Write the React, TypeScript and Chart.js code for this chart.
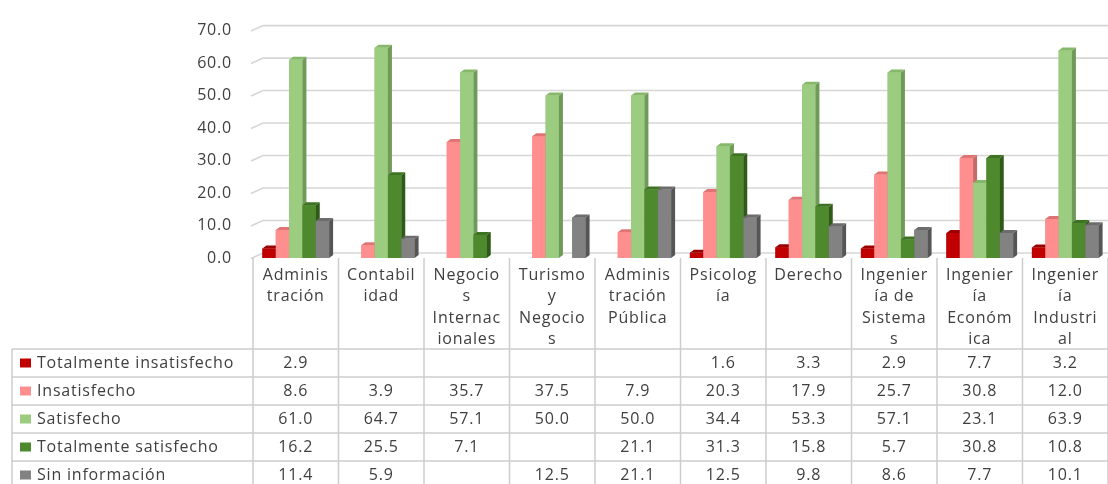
import React, { useEffect, useRef } from "react";
import { Chart, registerables } from "chart.js";

Chart.register(...registerables);

// ---------- data ----------
const categories: string[][] = [
  ["Adminis", "tración"],
  ["Contabil", "idad"],
  ["Negocio", "s", "Internac", "ionales"],
  ["Turismo", "y", "Negocio", "s"],
  ["Adminis", "tración", "Pública"],
  ["Psicolog", "ía"],
  ["Derecho"],
  ["Ingenier", "ía de", "Sistema", "s"],
  ["Ingenier", "ía", "Económ", "ica"],
  ["Ingenier", "ía", "Industri", "al"],
];

const seriesNames = [
  "Totalmente insatisfecho",
  "Insatisfecho",
  "Satisfecho",
  "Totalmente satisfecho",
  "Sin información",
];

const totalmenteInsatisfecho: (number | null)[] = [2.9, null, null, null, null, 1.6, 3.3, 2.9, 7.7, 3.2];
const insatisfecho: (number | null)[] = [8.6, 3.9, 35.7, 37.5, 7.9, 20.3, 17.9, 25.7, 30.8, 12.0];
const satisfecho: (number | null)[] = [61.0, 64.7, 57.1, 50.0, 50.0, 34.4, 53.3, 57.1, 23.1, 63.9];
const totalmenteSatisfecho: (number | null)[] = [16.2, 25.5, 7.1, null, 21.1, 31.3, 15.8, 5.7, 30.8, 10.8];
const sinInformacion: (number | null)[] = [11.4, 5.9, null, 12.5, 21.1, 12.5, 9.8, 8.6, 7.7, 10.1];

const yTicks = [0, 10, 20, 30, 40, 50, 60, 70];

const seriesValues = [
  totalmenteInsatisfecho,
  insatisfecho,
  satisfecho,
  totalmenteSatisfecho,
  sinInformacion,
];

// ---------- styles ----------
const frontColors = ["#c00000", "#ff8f8f", "#9bcc7f", "#4e8a2d", "#828282"];
const sideColors = ["#7a0000", "#c86a6a", "#6f9a58", "#2f5a1a", "#555555"];
const topColors = ["#9a0000", "#e07474", "#86b86a", "#3d7322", "#6c6c6c"];

const FONT = "Open Sans";
const TEXT = "#404040";
const GRID = "#d6d6d6";
const TABLE_LINE = "#cdcdcd";
const SPACING = "0.8px";

export default function App() {
  const ref = useRef<HTMLCanvasElement | null>(null);

  useEffect(() => {
    const canvas = ref.current;
    if (!canvas) return;

    const letterSpacingPlugin = {
      id: "letterSpacing",
      beforeDraw(chart: any) {
        (chart.ctx as any).letterSpacing = SPACING;
      },
    };

    const gridPlugin = {
      id: "grid3d",
      beforeDatasetsDraw(chart: any) {
        const ctx = chart.ctx;
        const area = chart.chartArea;
        const ys = chart.scales.y;
        ctx.save();
        ctx.strokeStyle = GRID;
        ctx.lineWidth = 1.6;
        for (const v of yTicks) {
          const y = ys.getPixelForValue(v);
          ctx.beginPath();
          ctx.moveTo(area.left - 2, y + 0.5);
          ctx.lineTo(area.left + 10, y - 5);
          ctx.lineTo(area.right, y - 5);
          ctx.stroke();
        }
        ctx.restore();
      },
    };

    // redraw every bar left to right with its 3D side and top faces
    const bar3dPlugin = {
      id: "bar3d",
      afterDatasetsDraw(chart: any) {
        const ctx = chart.ctx;
        const dx = 4;
        const dy = 3;
        const n = categories.length;
        ctx.save();
        for (let j = 0; j < n; j++) {
          for (let i = 0; i < seriesNames.length; i++) {
            const v = seriesValues[i][j];
            if (v === null || v === undefined) continue;
            const el = chart.getDatasetMeta(i).data[j];
            const p = el.getProps(["x", "y", "base", "width"], true);
            const l = p.x - p.width / 2;
            const r = p.x + p.width / 2;
            const t = p.y;
            const b = p.base;
            ctx.fillStyle = frontColors[i];
            ctx.fillRect(l, t, r - l, b - t);
            ctx.fillStyle = sideColors[i];
            ctx.beginPath();
            ctx.moveTo(r, t);
            ctx.lineTo(r + dx, t - dy);
            ctx.lineTo(r + dx, b - dy);
            ctx.lineTo(r, b);
            ctx.closePath();
            ctx.fill();
            ctx.fillStyle = topColors[i];
            ctx.beginPath();
            ctx.moveTo(l, t);
            ctx.lineTo(l + dx, t - dy);
            ctx.lineTo(r + dx, t - dy);
            ctx.lineTo(r, t);
            ctx.closePath();
            ctx.fill();
          }
        }
        ctx.restore();
      },
    };

    const tablePlugin = {
      id: "dataTable",
      afterDraw(chart: any) {
        const ctx = chart.ctx;
        const area = chart.chartArea;
        const xs = chart.scales.x;
        const n = categories.length;
        const colW = (area.right - area.left) / n;
        const tableTop = area.bottom;
        const headerBottom = 349;
        const rowH = 28;
        const bottom = 484;
        const legendLeft = 12;

        ctx.save();
        (ctx as any).letterSpacing = SPACING;
        ctx.strokeStyle = TABLE_LINE;
        ctx.lineWidth = 1.5;

        for (let c = 0; c <= n; c++) {
          const x = area.left + c * colW;
          ctx.beginPath();
          ctx.moveTo(x, tableTop);
          ctx.lineTo(x, bottom);
          ctx.stroke();
        }
        ctx.beginPath();
        ctx.moveTo(legendLeft, headerBottom);
        ctx.lineTo(legendLeft, bottom);
        ctx.stroke();

        for (let r = 0; r <= seriesNames.length; r++) {
          const y = headerBottom + r * rowH;
          ctx.beginPath();
          ctx.moveTo(legendLeft, y);
          ctx.lineTo(area.right, y);
          ctx.stroke();
        }

        ctx.fillStyle = TEXT;
        ctx.font = `16px "${FONT}"`;
        ctx.textAlign = "center";
        ctx.textBaseline = "middle";

        categories.forEach((lines, c) => {
          const cx = xs.getPixelForValue(c);
          lines.forEach((ln, k) => {
            ctx.fillText(ln, cx, 275 + k * 21.5);
          });
        });

        seriesNames.forEach((name, r) => {
          const cy = headerBottom + r * rowH + rowH / 2;
          ctx.fillStyle = frontColors[r];
          ctx.fillRect(20, cy - 4.5, 11, 9);
          ctx.fillStyle = TEXT;
          ctx.textAlign = "left";
          ctx.fillText(name, 37, cy);
          ctx.textAlign = "center";
          seriesValues[r].forEach((v, c) => {
            if (v === null || v === undefined) return;
            ctx.fillText(v.toFixed(1), xs.getPixelForValue(c), cy);
          });
        });
        ctx.restore();
      },
    };

    const chart = new Chart(canvas, {
      type: "bar",
      data: {
        labels: categories.map((c) => c.join(" ")),
        datasets: seriesNames.map((name, i) => ({
          label: name,
          data: seriesValues[i],
          backgroundColor: frontColors[i],
          borderWidth: 0,
          barPercentage: 1,
          categoryPercentage: 0.78,
        })),
      },
      options: {
        responsive: false,
        animation: false,
        devicePixelRatio: 1,
        layout: { padding: { top: 28, bottom: 226, left: 0, right: 0 } },
        plugins: {
          legend: { display: false },
          tooltip: { enabled: false },
        },
        scales: {
          x: {
            display: false,
            offset: true,
          },
          y: {
            min: 0,
            max: 70,
            afterFit(scale: any) {
              scale.width = 253;
            },
            afterBuildTicks(scale: any) {
              scale.ticks = yTicks.map((v) => ({ value: v }));
            },
            grid: { display: false, drawTicks: false },
            border: { display: false },
            ticks: {
              padding: 21,
              color: TEXT,
              font: { family: FONT, size: 16 },
              callback: (v: any) => Number(v).toFixed(1),
            },
          },
        },
      },
      plugins: [letterSpacingPlugin, gridPlugin, bar3dPlugin, tablePlugin],
    } as any);

    return () => chart.destroy();
  }, []);

  return (
    <div style={{ position: "absolute", left: 0, top: 0, width: 1108, height: 484, background: "#fff" }}>
      <canvas ref={ref} width={1108} height={484} />
    </div>
  );
}
